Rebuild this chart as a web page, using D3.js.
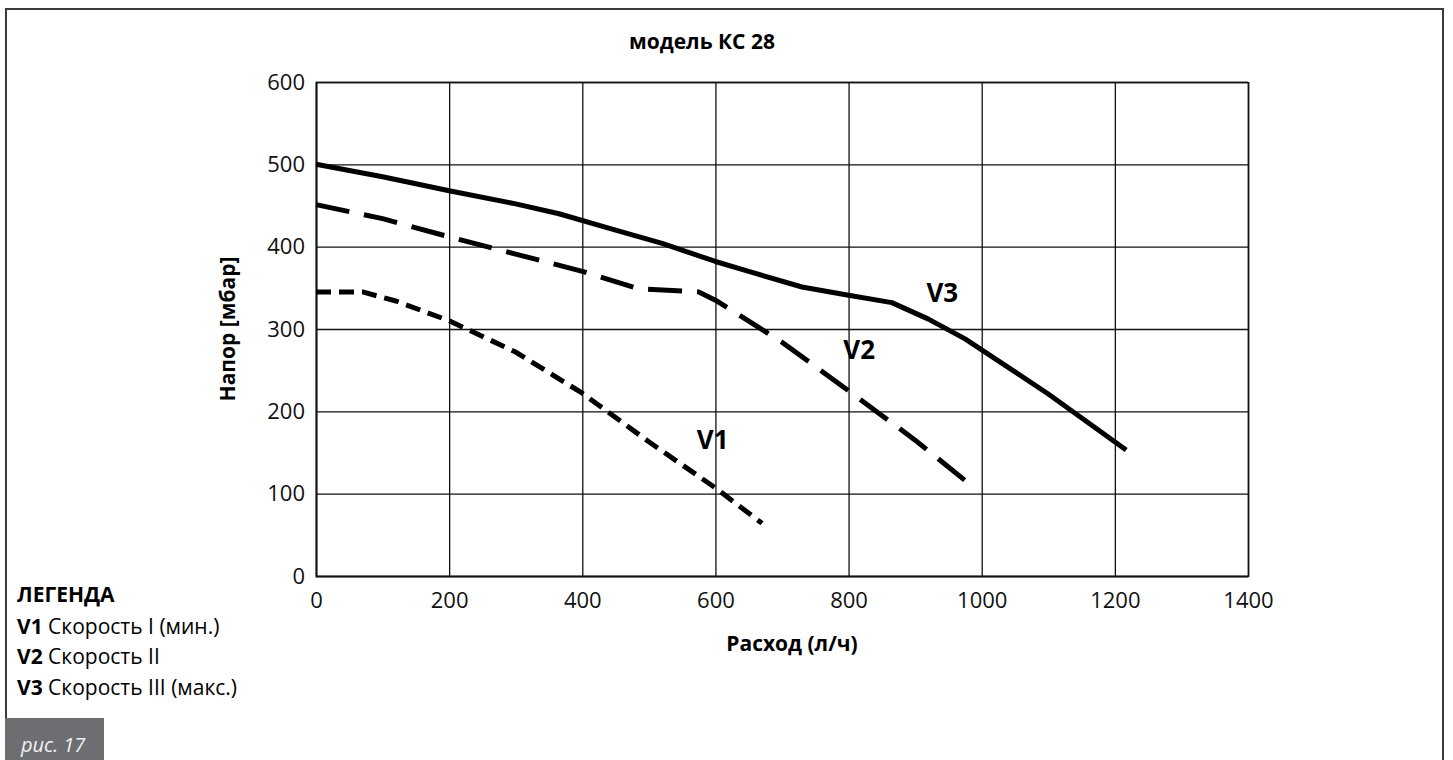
<!DOCTYPE html>
<html>
<head>
<meta charset="utf-8">
<script src="https://cdn.jsdelivr.net/npm/d3@7"></script>
<style>
  html, body { margin: 0; padding: 0; background: #fff; }
  svg { display: block; font-family: "Open Sans", "Noto Sans", sans-serif; }
</style>
</head>
<body>
<svg id="chart" width="1453" height="760"></svg>
<script>
// ---- data ----
const title = "модель КС 28";
const xTitle = "Расход (л/ч)";
const yTitle = "Напор [мбар]";
const xTicks = [0, 200, 400, 600, 800, 1000, 1200, 1400];
const yTicks = [0, 100, 200, 300, 400, 500, 600];

const v1 = [[0,345],[70,345],[120,334],[200,310],[300,272],[400,222],[500,163],[600,107],[670,64]];
const v2 = [[0,451],[100,434],[200,412],[300,391],[400,370],[484,349],[575,345],[600,335],[700,284],[800,225],[900,165],[978,114]];
const v3 = [[0,500],[100,485],[200,468],[300,452],[365,440],[450,420],[520,404],[600,382],[650,370],[730,351],[800,341],[865,332],[920,312],[975,288],[1050,248],[1100,221],[1217,153]];

const seriesNames = ["V1", "V2", "V3"];
const seriesLabelAt = [[572,154],[792,264],[917,333]];
const legendTitle = "ЛЕГЕНДА";
const legendTexts = ["Скорость I (мин.)", "Скорость II", "Скорость III (макс.)"];
const figLabel = "рис. 17";

// ---- layout ----
const svg = d3.select("#chart");
const x = d3.scaleLinear().domain([0, 1400]).range([316, 1248]);
const y = d3.scaleLinear().domain([0, 600]).range([576, 82]);
const plotW = x.range()[1] - x.range()[0];
const plotH = y.range()[0] - y.range()[1];

// outer frame (top, left, right)
svg.append("path")
  .attr("d", "M6,718 L6,9 L1443,9 L1443,760")
  .attr("fill", "none").attr("stroke", "#3a3a3a").attr("stroke-width", 2);

// figure badge
svg.append("rect").attr("x", 5).attr("y", 718).attr("width", 99).attr("height", 42).attr("fill", "#6d6e71");
svg.append("text").attr("x", 21).attr("y", 752).attr("fill", "#f2f2f2")
  .attr("font-style", "italic").attr("font-size", 20).text(figLabel);

// title
svg.append("text").attr("x", 702).attr("y", 49).attr("text-anchor", "middle")
  .attr("font-weight", "bold").attr("font-size", 21).text(title);

// axes with gridlines
const xAxis = d3.axisBottom(x).tickValues(xTicks).tickSize(-plotH).tickPadding(16).tickFormat(d3.format("d"));
const yAxis = d3.axisLeft(y).tickValues(yTicks).tickSize(-plotW).tickPadding(11).tickFormat(d3.format("d"));

const gx = svg.append("g").attr("transform", `translate(0,${y(0)})`).call(xAxis);
const gy = svg.append("g").attr("transform", `translate(${x(0)},0)`).call(yAxis);
[gx, gy].forEach(g => {
  g.select(".domain").attr("stroke", "#111").attr("stroke-width", 1.6);
  g.selectAll(".tick line").attr("stroke", "#111").attr("stroke-width", 1.3);
  g.selectAll(".tick text").attr("font-size", 22).attr("fill", "#111")
    .attr("font-family", "'Open Sans', sans-serif");
});

// axis titles
svg.append("text").attr("x", 792).attr("y", 651).attr("text-anchor", "middle")
  .attr("font-weight", "bold").attr("font-size", 21).text(xTitle);
svg.append("text").attr("transform", `translate(235,${(y(0)+y(600))/2}) rotate(-90)`)
  .attr("text-anchor", "middle").attr("font-weight", "bold").attr("font-size", 21).text(yTitle);

// lines
const line = d3.line().x(d => x(d[0])).y(d => y(d[1]));
const series = [
  {data: v1, dash: "15,8"},
  {data: v2, dash: "34,15"},
  {data: v3, dash: null}
];
series.forEach(s => {
  svg.append("path").datum(s.data).attr("d", line)
    .attr("fill", "none").attr("stroke", "#000").attr("stroke-width", 5)
    .attr("stroke-linejoin", "round")
    .attr("stroke-dasharray", s.dash);
});

// series labels
seriesNames.forEach((n, i) => {
  svg.append("text").attr("x", x(seriesLabelAt[i][0])).attr("y", y(seriesLabelAt[i][1]))
    .attr("font-weight", "bold").attr("font-size", 26).text(n);
});

// legend
const lg = svg.append("g").attr("font-size", 21);
lg.append("text").attr("x", 17).attr("y", 602).attr("font-weight", "bold").text(legendTitle);
const rowsY = [634, 664, 695];
seriesNames.forEach((n, i) => {
  const t = lg.append("text").attr("x", 17).attr("y", rowsY[i]);
  t.append("tspan").attr("font-weight", "bold").text(n);
  t.append("tspan").text(" " + legendTexts[i]);
});
</script>
</body>
</html>
